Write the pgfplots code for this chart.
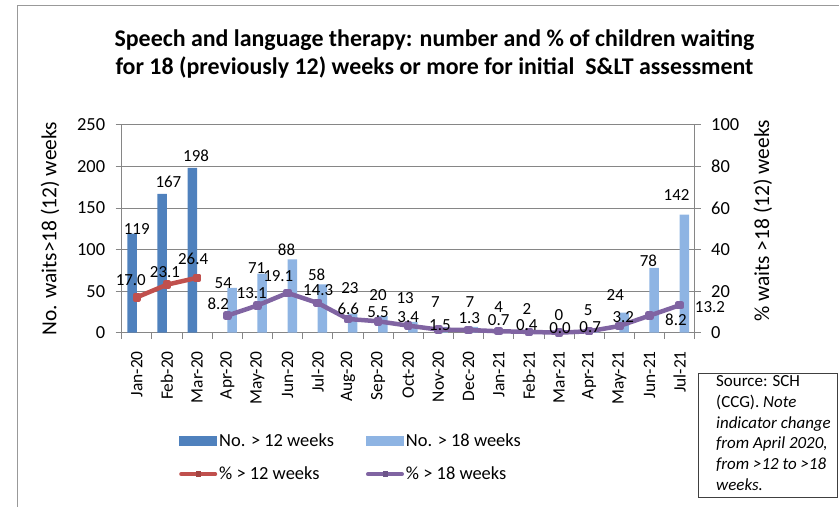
\documentclass[border=0pt]{standalone}
\usepackage{pgfplots}
\pgfplotsset{compat=1.18}
\usepackage{pgfplotstable}
\usepackage{fontspec}
\setmainfont{Carlito}
\definecolor{darkblue}{HTML}{4F81BD}
\definecolor{lightblue}{HTML}{8EB4E3}
\definecolor{redl}{HTML}{C0504D}
\definecolor{purp}{HTML}{8064A2}
\definecolor{axgray}{HTML}{868686}

\pgfplotstableread{
x y dx dy
0 119 0 5
1 167 1.5 11.7
2 198 -1 12
}\barA
\pgfplotstableread{
x y dx dy
3 54 -4 4.5
4 71 -0.7 5.3
5 88 -1 9.5
6 58 -1 9.4
7 23 2 25.3
8 20 0 21
9 13 -3 23.6
10 7 -3 25
11 7 1.5 25
12 4 0 22
13 2 -2 21.7
14 0 0 17.7
15 5 -1 18.5
16 24 -4 17.7
17 78 -1 7
18 142 -3 19.6
}\barB
\pgfplotstableread{
x y dx dy
0 17.0 -6 17
1 23.1 -2 12.7
2 26.4 -4 18.8
}\lineA
\pgfplotstableread{
x y dx dy
3 8.2 -9 12.3
4 13.1 -5.7 12.1
5 19.1 -9.3 17.3
6 14.3 0.5 13
7 6.6 0.4 9.7
8 5.5 0 9.6
9 3.4 0 8.9
10 1.5 1.6 4.6
11 1.3 0.8 11.7
12 0.7 0 11.2
13 0.4 -2 6.9
14 0.0 1 4.4
15 0.7 1 4.5
16 3.2 4 9.3
17 8.2 26.5 -3.7
18 13.2 30.3 -1.4
}\lineB

\pgfplotsset{
  common/.style={
    scale only axis, width=573bp, height=208bp,
    at={(121.7bp,-332.7bp)}, anchor=south west,
    xmin=-0.5, xmax=18.5, clip=false,
    axis line style={axgray, line width=0.8bp},
    tick style={axgray, line width=0.8bp},
    tick align=outside, major tick length=6bp, minor tick length=6bp,
    /pgf/number format/assume math mode=true,
    ticklabel style={font=\fontsize{18.5}{18.5}\selectfont, text=black},
  },
  lab/.style={
    visualization depends on={\thisrow{dx}\as\ldx},
    visualization depends on={\thisrow{dy}\as\ldy},
    every node near coord/.append style={font=\fontsize{17}{17}\selectfont, text=black, anchor=center, inner sep=0pt, xshift=\ldx bp, yshift=\ldy bp},
  },
}

\begin{document}
\begin{tikzpicture}
\useasboundingbox (0,0) rectangle (839bp,-507bp);
\draw[line width=0.8bp, black!40] (17.3bp,-507bp) -- (17.3bp,-5.7bp) -- (839bp,-5.7bp);

\node[align=center, font=\bfseries\fontsize{24}{29}\selectfont] at (434.5bp,-54bp)
  {Speech and language therapy: number and \% of children waiting\\for 18 (previously 12) weeks or more for initial\ \ S\&LT assessment};

\begin{axis}[common,
  ymin=0, ymax=250, ytick={0,50,...,250},
  axis x line*=bottom, axis y line*=left,
  yticklabel style={xshift=-7bp},
  ymajorgrids, grid style={axgray, line width=0.7bp},
  xtick={0,...,18},
  xticklabels={Jan-20,Feb-20,Mar-20,Apr-20,May-20,Jun-20,Jul-20,Aug-20,Sep-20,Oct-20,Nov-20,Dec-20,Jan-21,Feb-21,Mar-21,Apr-21,May-21,Jun-21,Jul-21},
  xticklabel style={yshift=-9bp, rotate=90, anchor=east, font=\fontsize{17.5}{17.5}\selectfont},
  minor xtick={-0.5,0.5,...,18.5},
  every major x tick/.append style={draw=none},
  ylabel={No. waits>18 (12) weeks},
  every axis y label/.style={at={(axis description cs:-0.125,0.5)}, rotate=90, anchor=center, font=\fontsize{21.5}{21.5}\selectfont},
  legend columns=2,
  legend cell align=left,
  legend style={draw=none, fill=none, at={(axis description cs:0.1,-0.475)}, anchor=north west,
    font=\fontsize{18.5}{18.5}\selectfont, inner sep=0pt,
    nodes={inner sep=2bp},
    /tikz/every even column/.append style={column sep=30bp},
    /tikz/row sep=15bp},
]
\addplot[ybar, bar width=9.5bp, bar shift=-4.75bp, fill=darkblue, draw=none, lab, nodes near coords,
  legend image code/.code={\fill[darkblue] (0bp,-5bp) rectangle (38bp,5bp);}]
  table[x=x,y=y] {\barA};
\addplot[ybar, bar width=9.5bp, bar shift=4.75bp, fill=lightblue, draw=none, lab, nodes near coords,
  legend image code/.code={\fill[lightblue] (0bp,-5bp) rectangle (38bp,5bp);}]
  table[x=x,y=y] {\barB};
\addlegendimage{legend image code/.code={\draw[redl, line width=4bp, line cap=round] (2bp,0bp) -- (36bp,0bp); \fill[redl!85!black] (17bp,-2.5bp) rectangle (21bp,2.5bp);}}
\addlegendimage{legend image code/.code={\draw[purp, line width=4bp, line cap=round] (2bp,0bp) -- (36bp,0bp); \fill[purp!85!black] (17bp,-2.5bp) rectangle (21bp,2.5bp);}}
\legend{No. > 12 weeks, No. > 18 weeks, \% > 12 weeks, \% > 18 weeks}
\end{axis}

\begin{axis}[common,
  ymin=0, ymax=100, ytick={0,20,...,100},
  axis x line=none, axis y line*=right,
  yticklabel style={xshift=7bp},
  ylabel={\% waits >18 (12) weeks},
  every axis y label/.style={at={(axis description cs:1.119,0.537)}, rotate=90, anchor=center, font=\fontsize{21.5}{21.5}\selectfont},
]
\addplot[redl, line width=4.5bp, line join=round, line cap=round, mark=square*, mark size=2bp, mark options={fill=redl!85!black, draw=none},
  lab, nodes near coords={\pgfmathprintnumber[fixed,fixed zerofill,precision=1]{\pgfplotspointmeta}}]
  table[x=x,y=y] {\lineA};
\addplot[purp, line width=4.5bp, line join=round, line cap=round, mark=square*, mark size=2bp, mark options={fill=purp!85!black, draw=none},
  lab, nodes near coords={\pgfmathprintnumber[fixed,fixed zerofill,precision=1]{\pgfplotspointmeta}}]
  table[x=x,y=y] {\lineB};
\end{axis}

\draw[line width=0.8bp, black!75] (698bp,-373bp) rectangle (837bp,-497bp);
\node[anchor=north west, align=left, inner sep=0pt, font=\fontsize{17}{20.8}\selectfont] at (716bp,-375.5bp)
  {Source: SCH\\(CCG). \textit{Note}\\\textit{indicator change}\\\textit{from April 2020,}\\\textit{from >12 to >18}\\\textit{weeks.}};
\end{tikzpicture}
\end{document}
